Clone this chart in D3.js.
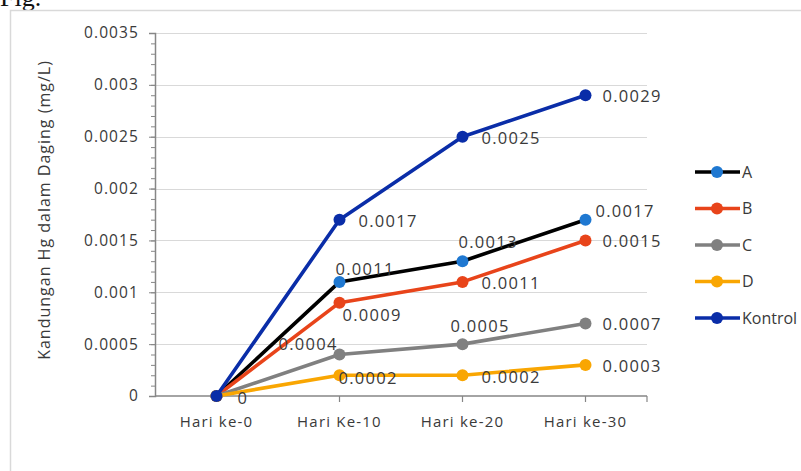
<!DOCTYPE html>
<html>
<head>
<meta charset="utf-8">
<script src="https://cdn.jsdelivr.net/npm/d3@7"></script>
<style>
  body { margin: 0; background: #fff; }
  text { font-family: "Open Sans", sans-serif; fill: #3a3a3a; }
</style>
</head>
<body>
<svg id="chart" width="801" height="471"></svg>
<script>
// categories and series values
var days = ["Hari ke-0", "Hari Ke-10", "Hari ke-20", "Hari ke-30"]
var seriesNames = ["A", "B", "C", "D", "Kontrol"]
var valA = [0, 0.0011, 0.0013, 0.0017]
var valB = [0, 0.0009, 0.0011, 0.0015]
var valC = [0, 0.0004, 0.0005, 0.0007]
var valD = [0, 0.0002, 0.0002, 0.0003]
var valKontrol = [0, 0.0017, 0.0025, 0.0029]
var yTicks = [0, 0.0005, 0.001, 0.0015, 0.002, 0.0025, 0.003, 0.0035]

// styling, kept apart from the values
var lineColors = ["#000000", "#e8441a", "#808080", "#f9a602", "#0a2da8"]
var dotColors = ["#1f78d1", "#e8441a", "#808080", "#f9a602", "#0a2da8"]
// data label offsets (dx, dy) from each point; null = hidden
var labelOffsets = [
  [null, [-4, -7], [-4, -13], [10, -3]],
  [null, [3, 18], [19, 7], [17, 7]],
  [null, [-61, -5], [-12, -12], [17, 7]],
  [null, [-1, 9], [19, 8], [17, 7]],
  [[21, 8], [19, 7], [19, 7], [17, 7]]
]

var values = [valA, valB, valC, valD, valKontrol]

var svg = d3.select("#chart"),
    margin = {top: 33, left: 155, right: 154, bottom: 75},
    width = 801 - margin.left - margin.right,
    height = 471 - margin.top - margin.bottom;

// "Fig." cut off at the very top
svg.append("text").attr("x", 0).attr("y", 6)
   .style("font-family", "Liberation Serif, serif").style("font-size", "26px")
   .style("fill", "#111").text("Fig.");

// chart area frame
svg.append("rect").attr("x", 10.5).attr("y", 10.5).attr("width", 820).attr("height", 500)
   .attr("fill", "none").attr("stroke", "#d9d9d9").attr("stroke-width", 1.5);

var g = svg.append("g").attr("transform", "translate(" + margin.left + "," + margin.top + ")");

var x = d3.scaleBand().domain(days).range([0, width]),
    y = d3.scaleLinear().domain([0, 0.0035]).range([height, 0]);
var cx = function(d) { return x(d) + x.bandwidth() / 2; };

// gridlines
g.append("g").selectAll("line").data(yTicks.slice(1)).join("line")
  .attr("x1", 0).attr("x2", width)
  .attr("y1", function(d) { return Math.round(y(d)) + 0.5; })
  .attr("y2", function(d) { return Math.round(y(d)) + 0.5; })
  .attr("stroke", "#d9d9d9").attr("stroke-width", 1);

// minor ticks on y axis
g.append("g")
  .call(d3.axisLeft(y).tickValues(d3.range(0, 36).map(function(i) { return i / 10000; }))
    .tickSize(4).tickFormat(""))
  .call(function(a) { a.select(".domain").remove(); })
  .selectAll("line").attr("stroke", "#868686");

// major y axis
var yAxis = g.append("g")
  .call(d3.axisLeft(y).tickValues(yTicks).tickSize(6).tickPadding(10)
    .tickFormat(function(d) { return d === 0 ? "0" : String(+d.toFixed(4)); }));
yAxis.select(".domain").attr("stroke", "#868686").attr("stroke-width", 1.5);
yAxis.selectAll("line").attr("stroke", "#868686");
yAxis.selectAll("text").style("font-size", "15.5px").style("letter-spacing", "1.1px")
  .style("font-family", "Open Sans, sans-serif").attr("fill", "#3a3a3a");

// x axis, ticks under the points and at the end
var xAxis = g.append("g").attr("transform", "translate(0," + height + ")");
xAxis.append("line").attr("x1", 0).attr("x2", width).attr("stroke", "#868686").attr("stroke-width", 1.5);
xAxis.selectAll(".tk").data(days.slice(1).map(cx).concat([width])).join("line")
  .attr("x1", function(d) { return d; }).attr("x2", function(d) { return d; })
  .attr("y1", 0).attr("y2", 6).attr("stroke", "#868686").attr("stroke-width", 1.2);
xAxis.selectAll(".lbl").data(days).join("text")
  .attr("x", cx).attr("y", 31).attr("text-anchor", "middle")
  .style("font-size", "15px").style("letter-spacing", "1.2px")
  .text(function(d) { return d; });

// y axis title
svg.append("text")
  .attr("transform", "translate(50,210) rotate(-90)")
  .attr("text-anchor", "middle")
  .style("font-size", "16px").style("letter-spacing", "1px")
  .text("Kandungan Hg dalam Daging (mg/L)");

var line = d3.line()
  .x(function(d, i) { return cx(days[i]); })
  .y(function(d) { return y(d); });

seriesNames.forEach(function(name, s) {
  var sg = g.append("g");
  sg.append("path").datum(values[s])
    .attr("d", line).attr("fill", "none")
    .attr("stroke", lineColors[s]).attr("stroke-width", 3.6)
    .attr("stroke-linejoin", "round");
  sg.selectAll("circle").data(values[s]).join("circle")
    .attr("cx", function(d, i) { return cx(days[i]); })
    .attr("cy", function(d) { return y(d); })
    .attr("r", 6).attr("fill", dotColors[s]);
});

// data labels
seriesNames.forEach(function(name, s) {
  var pts = values[s].map(function(v, i) { return {v: v, day: days[i], off: labelOffsets[s][i]}; })
    .filter(function(p) { return p.off !== null; });
  g.append("g").selectAll("text").data(pts).join("text")
    .attr("x", function(p) { return cx(p.day) + p.off[0]; })
    .attr("y", function(p) { return y(p.v) + p.off[1]; })
    .style("font-size", "16.5px").style("letter-spacing", "1.3px")
    .text(function(p) { return p.v === 0 ? "0" : String(p.v); });
});

// legend
var legend = svg.append("g").attr("transform", "translate(695,172)");
var row = legend.selectAll("g").data(seriesNames).join("g")
  .attr("transform", function(d, i) { return "translate(0," + (i * 36.5) + ")"; });
row.append("line").attr("x1", 0).attr("x2", 45)
  .attr("stroke", function(d, i) { return lineColors[i]; }).attr("stroke-width", 3.6);
row.append("circle").attr("cx", 22).attr("r", 6)
  .attr("fill", function(d, i) { return dotColors[i]; });
row.append("text").attr("x", 47).attr("y", 5.5)
  .style("font-size", "16px")
  .text(function(d) { return d; });
</script>
</body>
</html>
